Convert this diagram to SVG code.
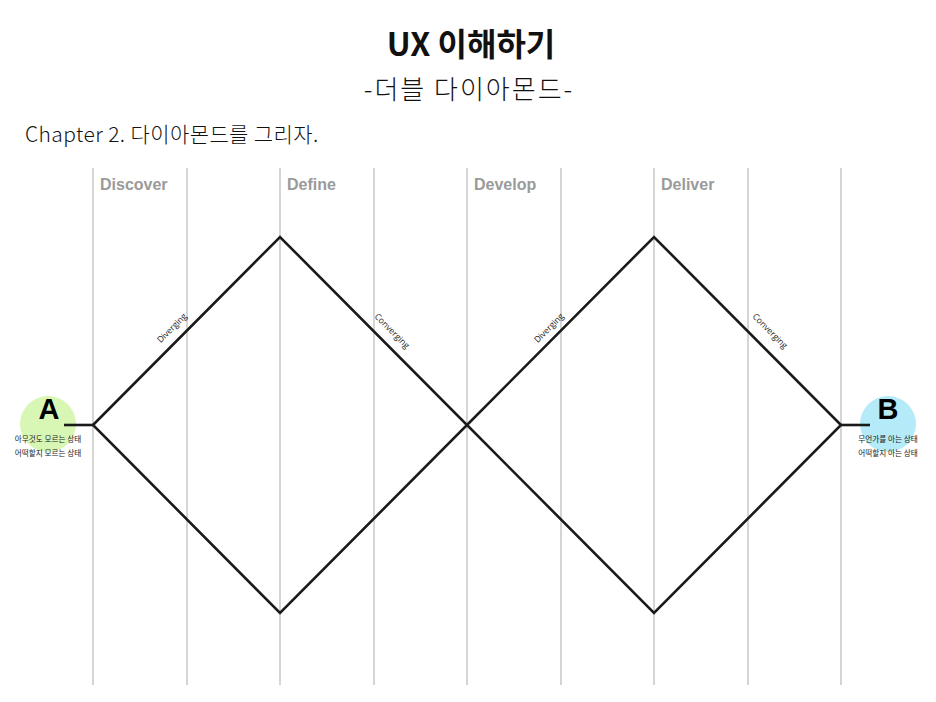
<svg xmlns="http://www.w3.org/2000/svg" width="936" height="702" viewBox="0 0 936 702">
<style>
.kr{font-family:"Noto Sans CJK KR","Noto Sans",sans-serif;fill:#111}
.phase{font-family:"Liberation Sans",Arial,sans-serif;font-weight:bold;font-size:16px;fill:#9a9a9a}
.grid line{stroke:#ababab;stroke-width:1}
.edge{stroke:#1a1a1a;stroke-width:2.6;fill:none;stroke-linejoin:miter}
.lbl{font-family:"Open Sans","Noto Sans",sans-serif;font-size:8.6px;fill:#222;text-anchor:middle}
.small{font-family:"Noto Sans CJK KR",sans-serif;font-size:7.6px;fill:#222;text-anchor:middle}
.big{font-family:"Liberation Sans",Arial,sans-serif;font-weight:bold;font-size:29px;fill:#000;text-anchor:middle}
</style>
<rect width="936" height="702" fill="#fff"/>
<text class="kr" x="471" y="56" text-anchor="middle" font-size="32" font-weight="bold">UX 이해하기</text>
<text class="kr" x="469" y="99" text-anchor="middle" font-size="26" font-weight="300" letter-spacing="2">-더블 다이아몬드-</text>
<text class="kr" x="25" y="142" font-size="21" font-weight="300" letter-spacing="0.4">Chapter 2. 다이아몬드를 그리자.</text>
<g class="grid">
<line x1="93" y1="168" x2="93" y2="685"/>
<line x1="187" y1="168" x2="187" y2="685"/>
<line x1="280" y1="168" x2="280" y2="685"/>
<line x1="374" y1="168" x2="374" y2="685"/>
<line x1="467" y1="168" x2="467" y2="685"/>
<line x1="561" y1="168" x2="561" y2="685"/>
<line x1="654" y1="168" x2="654" y2="685"/>
<line x1="748" y1="168" x2="748" y2="685"/>
<line x1="841" y1="168" x2="841" y2="685"/>
</g>
<g id="phases">
<text class="phase" x="100" y="190">Discover</text>
<text class="phase" x="287" y="190">Define</text>
<text class="phase" x="474" y="190">Develop</text>
<text class="phase" x="661" y="190">Deliver</text>
</g>
<g id="nodeA">
<circle cx="48" cy="424" r="28" fill="#d8f7b4"/>
<text class="big" x="49" y="419">A</text>
<text class="small" x="48" y="442">아무것도 모르는 상태</text>
<text class="small" x="48" y="456">어떡할지 모르는 상태</text>
</g>
<g id="nodeB">
<circle cx="888" cy="424" r="28" fill="#b5ebf8"/>
<text class="big" x="888" y="419">B</text>
<text class="small" x="888" y="442">무언가를 아는 상태</text>
<text class="small" x="888" y="456">어떡할지 아는 상태</text>
</g>
<g id="connectors">
<line class="edge" x1="64" y1="425" x2="93" y2="425"/>
<line class="edge" x1="841" y1="425" x2="870" y2="425"/>
<polygon class="edge" points="93,425 280,237 467,425 280,613"/>
<polygon class="edge" points="467,425 654,237 841,425 654,613"/>
</g>
<g id="labels">
<text class="lbl" transform="translate(174,330) rotate(-45)">Diverging</text>
<text class="lbl" transform="translate(390,333) rotate(45)">Converging</text>
<text class="lbl" transform="translate(551,330) rotate(-45)">Diverging</text>
<text class="lbl" transform="translate(768,333) rotate(45)">Converging</text>
</g>
</svg>
